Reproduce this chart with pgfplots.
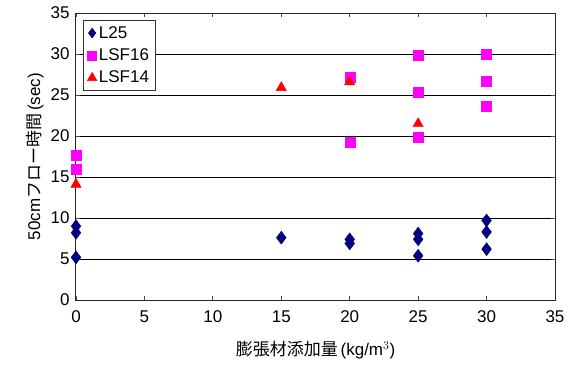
\documentclass[border=0pt]{standalone}
\usepackage{pgfplots}
\pgfplotsset{compat=1.18}
\usepackage{fontspec}
\setmainfont{Liberation Sans}
\newfontfamily\cjk{Noto Sans CJK JP}
\definecolor{navyc}{RGB}{0,0,128}
\definecolor{magc}{RGB}{255,0,255}
\definecolor{redc}{RGB}{255,0,0}
\begin{document}
\begin{tikzpicture}[x=1pt,y=1pt]
\begin{axis}[
  scale only axis,
  width=479pt, height=287pt,
  at={(0,0)}, anchor=south west,
  xmin=0, xmax=35, ymin=0, ymax=35,
  xtick={0,5,...,35}, ytick={0,5,...,35},
  ymajorgrids, grid style={black, line width=0.8pt},
  tick align=inside, major tick length=4pt,
  tick style={black!70, line width=0.8pt},
  axis line style={black!85, line width=1pt},
  /pgf/number format/assume math mode=true,
  ticklabel style={font=\fontsize{17}{20}\selectfont},
  xticklabel style={yshift=-7pt},
  yticklabel style={xshift=-3pt},
  xlabel={{\cjk 膨張材添加量}\,(kg/m$^{3}$)},
  ylabel={50cm{\cjk フロー時間}\,(sec)},
  label style={font=\fontsize{17}{20}\selectfont},
  xlabel style={yshift=-12pt},
  ylabel style={yshift=0pt},
  legend style={at={(0.015,0.975)}, anchor=north west, draw=black!80, fill=white,
    font=\fontsize{17}{20}\selectfont, row sep=5pt, inner sep=4pt, cells={anchor=west}},
  legend image code/.code={\draw[#1] plot coordinates {(0.15cm,0cm)};},
  clip=false,
]
\addplot[only marks, mark=diamond*, mark size=6.5pt, color=navyc, mark options={fill=navyc, draw=navyc},
  legend image post style={mark size=5pt}] coordinates {
(0,9.0) (0,8.2) (0,5.2) (15,7.6) (20,7.4) (20,6.9) (25,8.1) (25,7.4) (25,5.4) (30,9.7) (30,8.3) (30,6.2)};
\addlegendentry{L25}
\addplot[only marks, mark=square*, mark size=5pt, color=magc, mark options={fill=magc, draw=magc},
  legend image post style={mark size=4.5pt}] coordinates {
(0,17.6) (0,16.0) (20,27.2) (20,19.2) (25,29.8) (25,25.3) (25,19.9) (30,30.0) (30,26.7) (30,23.6)};
\addlegendentry{LSF16}
\addplot[only marks, mark=triangle*, mark size=6pt, color=redc, mark options={fill=redc, draw=redc},
  legend image post style={mark size=5.5pt}] coordinates {
(0,14.1) (15,25.9) (20,26.6) (25,21.5)};
\addlegendentry{LSF14}
\end{axis}
\pgfresetboundingbox
\path (-76pt,-76pt) rectangle (497pt,300pt);
\end{tikzpicture}
\end{document}
